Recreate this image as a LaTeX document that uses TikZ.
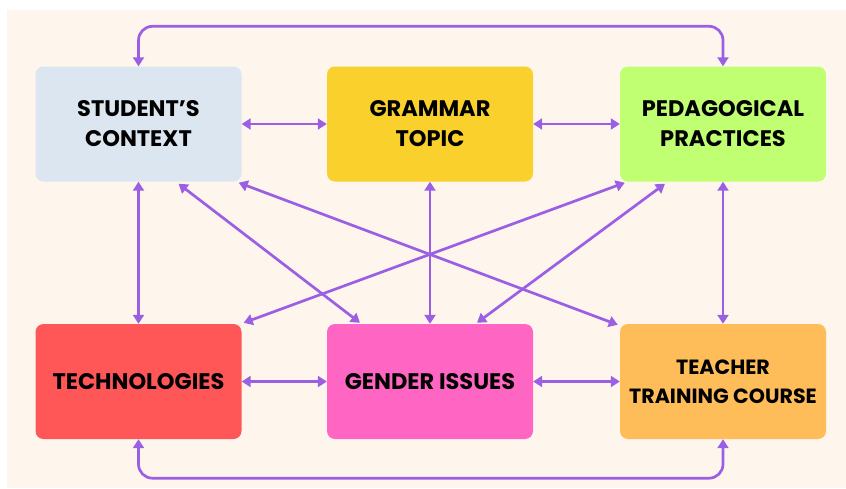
\documentclass[tikz,border=0pt]{standalone}
\usepackage{fontspec}
\setmainfont{Poppins}
\usetikzlibrary{arrows.meta,calc}
\definecolor{bgc}{HTML}{FEF5ED}
\definecolor{arr}{HTML}{9B5FE4}
\definecolor{cstu}{HTML}{DCE6F0}
\definecolor{cgra}{HTML}{FAD02C}
\definecolor{cped}{HTML}{C1FF72}
\definecolor{ctec}{HTML}{FF5757}
\definecolor{cgen}{HTML}{FF66C4}
\definecolor{ctea}{HTML}{FFBD59}
\tikzset{
  box/.style={rounded corners=8pt, minimum width=206pt, minimum height=115pt,
    inner sep=0pt, align=center, text=black,
    font=\fontsize{22.5}{30}\selectfont\bfseries},
  link/.style={draw=arr, line width=2.7pt, {Triangle[width=11pt,length=9pt]}-{Triangle[width=11pt,length=9pt]}}
}
\begin{document}
\begin{tikzpicture}[x=1pt,y=-1pt]
\useasboundingbox (0,0) rectangle (846,488);
\fill[white] (0,0) rectangle (846,488);
\fill[bgc] (7,10) rectangle (846,488);
\node[box, fill=cstu] (sc) at (138.5,124) {STUDENT’S\\CONTEXT};
\node[box, fill=cgra] (gt) at (430,124) {GRAMMAR\\TOPIC};
\node[box, fill=cped] (pp) at (723,124) {PEDAGOGICAL\\PRACTICES};
\node[box, fill=ctec] (te) at (138.5,381.5) {TECHNOLOGIES};
\node[box, fill=cgen] (gi) at (430,381.5) {GENDER ISSUES};
\node[box, fill=ctea, font=\fontsize{20.6}{29}\selectfont\bfseries] (tc) at (723,381.5) {TEACHER\\TRAINING COURSE};
% horizontal
\draw[link] (sc) -- (gt);
\draw[link] (gt) -- (pp);
\draw[link] (te) -- (gi);
\draw[link] (gi) -- (tc);
% vertical
\draw[link] (sc) -- (te);
\draw[link] (gt) -- (gi);
\draw[link] (pp) -- (tc);
% diagonals
\draw[link] ([xshift=40pt,yshift=-2pt]sc.south) -- ([xshift=-70pt,yshift=1pt]gi.north);
\draw[link] ([xshift=-3pt,yshift=-1pt]sc.south east) -- ([xshift=-2pt,yshift=-1pt]tc.north west);
\draw[link] ([xshift=5pt,yshift=-1pt]pp.south west) -- ([xshift=2pt,yshift=1pt]te.north east);
\draw[link] ([xshift=-58pt,yshift=-2pt]pp.south) -- ([xshift=47pt,yshift=1pt]gi.north);
% loops
\draw[link, rounded corners=14pt] (sc.north) -- ++(0,-40) -| (pp.north);
\draw[link, rounded corners=14pt] (te.south) -- ++(0,39) -| (tc.south);
\end{tikzpicture}
\end{document}
